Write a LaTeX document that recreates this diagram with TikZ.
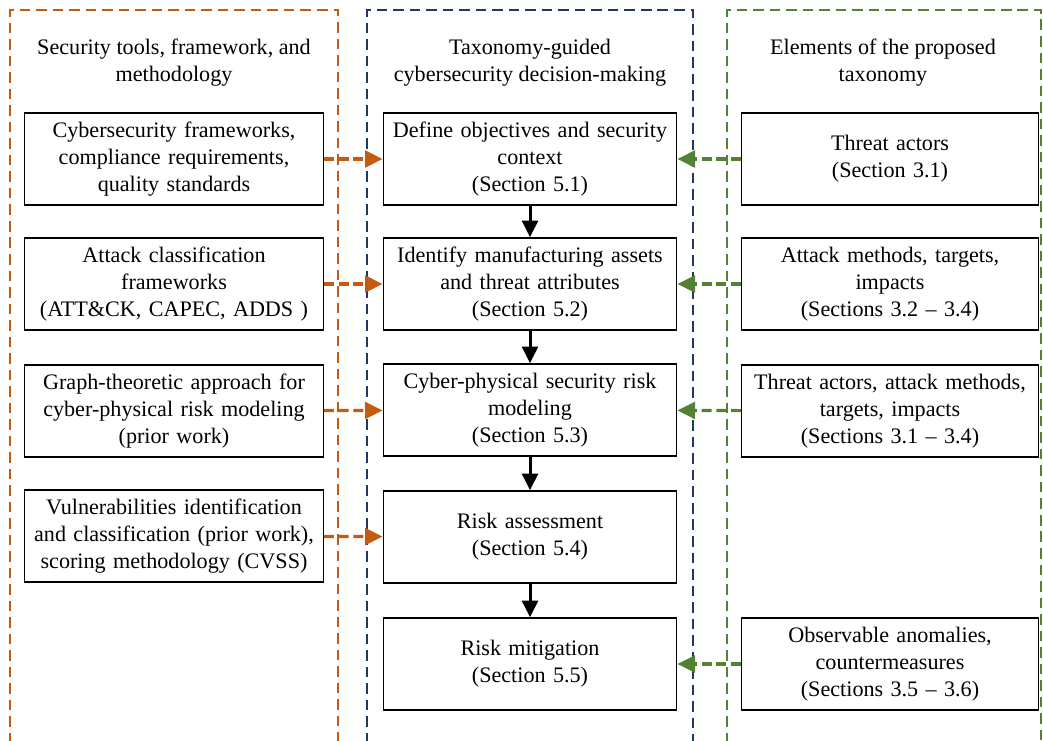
\documentclass[tikz,border=0pt]{standalone}
\usepackage{fontspec}
\setmainfont{Liberation Serif}
\usepackage{tikz}
\usetikzlibrary{arrows.meta,positioning}

\definecolor{toolorange}{RGB}{197,90,17}
\definecolor{stepblue}{RGB}{31,56,100}
\definecolor{elemgreen}{RGB}{84,130,53}

\tikzset{
  frame/.style={line width=1.1pt, dash pattern=on 6pt off 3.4pt},
  box/.style={draw, line width=0.8pt, minimum height=1.84cm, align=center,
    font=\fontsize{12.6}{15.3}\selectfont, inner sep=1pt},
  leftbox/.style={box, minimum width=5.94cm, text width=5.9cm},
  midbox/.style={box, minimum width=5.84cm, text width=5.8cm},
  rightbox/.style={box, minimum width=5.9cm, text width=5.86cm},
  head/.style={align=center, font=\fontsize{12.6}{15.3}\selectfont},
  feed/.style={line width=1.8pt, dash pattern=on 5.6pt off 2.8pt, -{Triangle[length=10pt,width=9.5pt]}},
  flow/.style={line width=1.7pt, -{Triangle[length=9.5pt,width=9pt]}}
}

\begin{document}
\begin{tikzpicture}[x=0.02cm, y=-0.02cm]
            \useasboundingbox (0,0) rectangle (1043,740);
            % column frames
            \draw[frame, toolorange] (10,760) -- (10,10) -- (338,10) -- (338,760);
            \draw[frame, stepblue] (367,760) -- (367,10) -- (693,10) -- (693,760);
            \draw[frame, elemgreen] (727,760) -- (727,10) -- (1041,10) -- (1041,760);
            \node[head] (hl) at (174,63) {Security tools, framework, and\\methodology};
            \node[head] (hm) at (530,63) {Taxonomy-guided\\cybersecurity decision-making};
            \node[head] (hr) at (883,63) {Elements of the proposed\\taxonomy};
            % decision-making steps
            \node[midbox] (m1) at (530,159) {Define objectives and security\\context\\(Section 5.1)};
            \node[midbox] (m2) at (530,284) {Identify manufacturing assets\\and threat attributes\\(Section 5.2)};
            \node[midbox] (m3) at (530,410) {Cyber-physical security risk\\modeling\\(Section 5.3)};
            \node[midbox] (m4) at (530,537) {Risk assessment\\(Section 5.4)};
            \node[midbox] (m5) at (530,664) {Risk mitigation\\(Section 5.5)};
            % tools
            \node[leftbox] (l1) at (174,159) {Cybersecurity frameworks,\\compliance requirements,\\quality standards};
            \node[leftbox] (l2) at (174,284) {Attack classification\\frameworks\\(ATT\&CK, CAPEC, ADDS )};
            \node[leftbox] (l3) at (174,411) {Graph-theoretic approach for\\cyber-physical risk modeling\\(prior work)};
            \node[leftbox] (l4) at (174,536) {Vulnerabilities identification\\and classification (prior work),\\scoring methodology (CVSS)};
            % taxonomy elements
            \node[rightbox] (r1) at (890,159) {Threat actors\\(Section 3.1)};
            \node[rightbox] (r2) at (890,284) {Attack methods, targets,\\impacts\\(Sections 3.2 -- 3.4)};
            \node[rightbox] (r3) at (890,411) {Threat actors, attack methods,\\targets, impacts\\(Sections 3.1 -- 3.4)};
            \node[rightbox] (r5) at (890,664) {Observable anomalies,\\countermeasures\\(Sections 3.5 -- 3.6)};
            % connectors
            \foreach \a/\b in {m1/m2, m2/m3, m3/m4, m4/m5}
                \draw[flow] (\a) -- (\b);
            \foreach \a/\b in {l1/m1, l2/m2, l3/m3, l4/m4}
                \draw[feed, toolorange] (\a) -- (\b);
            \foreach \a/\b in {r1/m1, r2/m2, r3/m3, r5/m5}
                \draw[feed, elemgreen] (\a) -- (\b);
        \end{tikzpicture}
\end{document}
